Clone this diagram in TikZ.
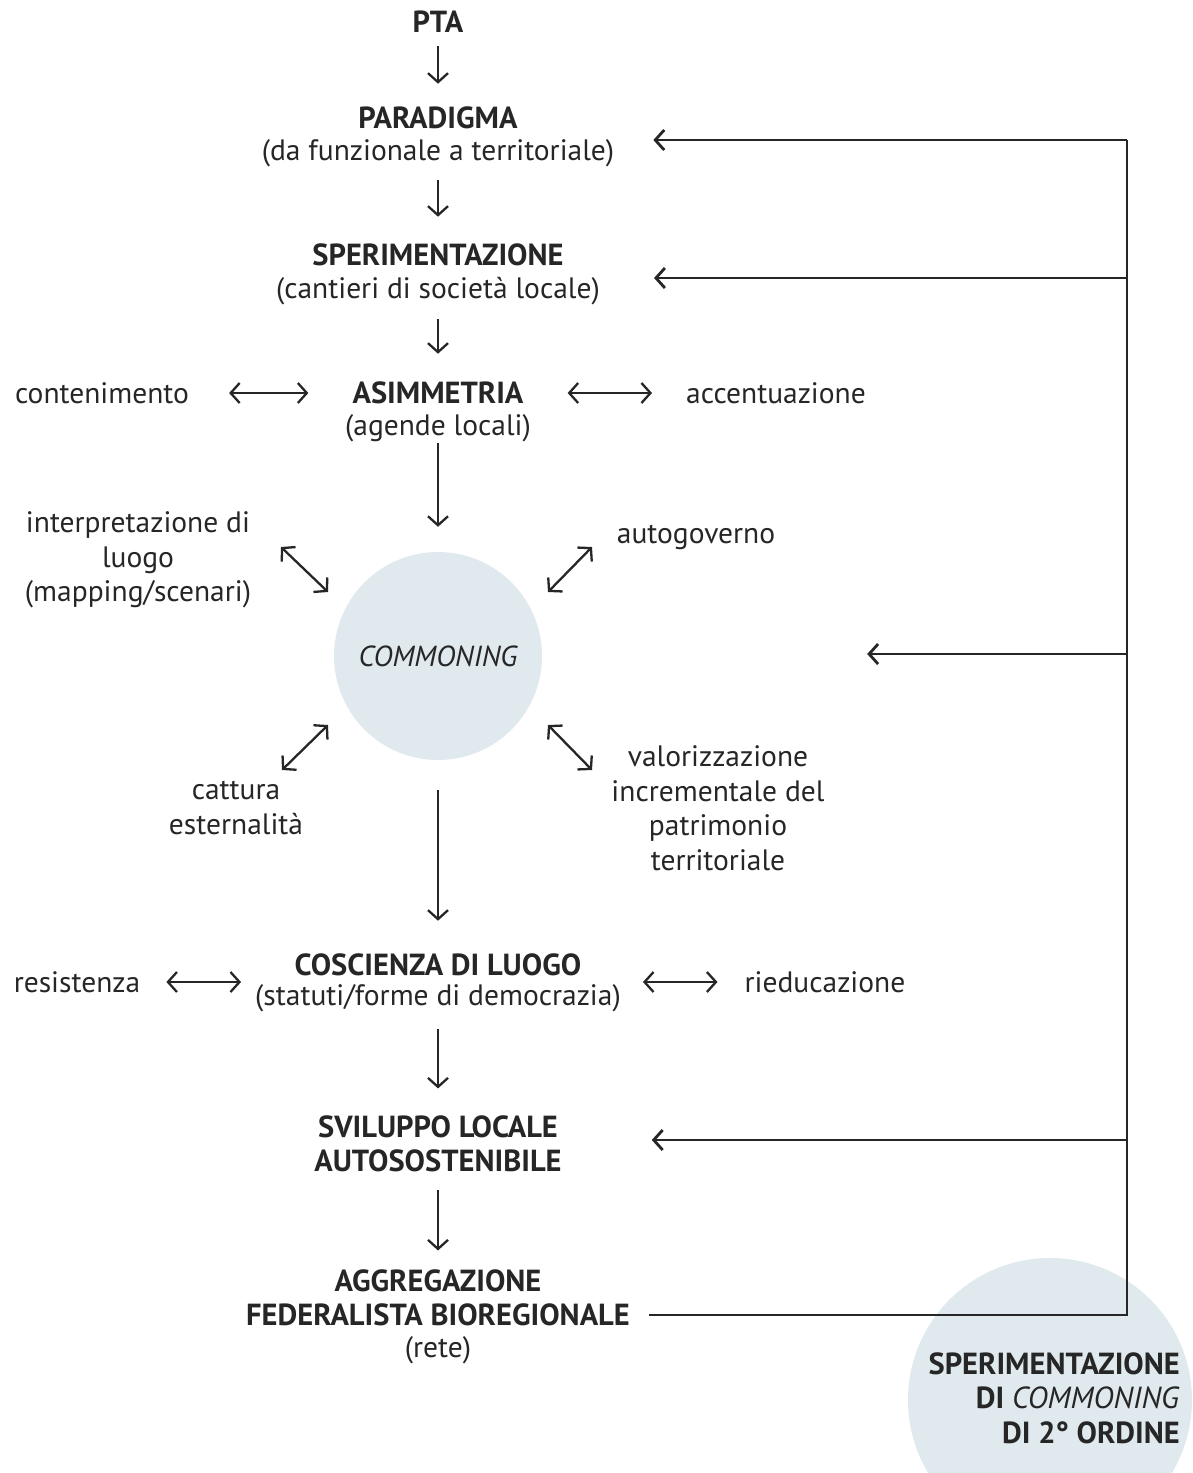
\documentclass[tikz,border=0pt]{standalone}
\usepackage{fontspec}
\setmainfont{PT Sans}
\usetikzlibrary{arrows.meta,calc}
\definecolor{ink}{RGB}{38,38,38}
\definecolor{bub}{RGB}{224,233,238}
\begin{document}
\begin{tikzpicture}[x=1pt,y=-1pt,
  every node/.style={text=ink, inner sep=0pt, align=center, font=\fontsize{29.5}{34.5}\selectfont},
  hd/.style={font=\fontsize{30.5}{34.5}\selectfont\bfseries},
  arr/.style={draw=ink, line width=2.3pt, -{Straight Barb[length=9pt,width=20pt]}},
  darr/.style={draw=ink, line width=2.3pt, {Straight Barb[length=9pt,width=20pt]}-{Straight Barb[length=9pt,width=20pt]}},
  fb/.style={draw=ink, line width=2.8pt}]
\useasboundingbox (0,0) rectangle (1192,1473);
\clip (0,0) rectangle (1192,1473);

% bubbles
\node[circle, fill=bub, minimum size=284pt] (bigc) at (1050,1400) {};
\node[circle, fill=bub, minimum size=208pt, font=\fontsize{29}{30}\selectfont\itshape] (circ) at (438,656) {COMMONING};

% main column
\node[hd] (pta) at (438,22) {PTA};
\node[hd] (par) at (438,118) {PARADIGMA};
\node (parsub) at (438,153) {(da funzionale a territoriale)};
\node[hd] (spe) at (438,255) {SPERIMENTAZIONE};
\node (spesub) at (438,291) {(cantieri di società locale)};
\node[hd] (asim) at (438,393) {ASIMMETRIA};
\node (asimsub) at (438,428) {(agende locali)};
\node (cont) at (102,393) {contenimento};
\node (acc) at (776,393) {accentuazione};
\node (interp) at (138,560) {interpretazione di\\luogo\\(mapping/scenari)};
\node (auto) at (696,537) {autogoverno};
\node (catt) at (236,808) {cattura\\esternalità};
\node (valo) at (718,808) {valorizzazione\\incrementale del\\patrimonio\\territoriale};
\node[hd] (cosc) at (438,965) {COSCIENZA DI LUOGO};
\node (coscsub) at (438,998) {(statuti/forme di democrazia)};
\node (res) at (77,982) {resistenza};
\node (ried) at (825,982) {rieducazione};
\node[hd] (svil) at (438,1144) {SVILUPPO LOCALE\\AUTOSOSTENIBILE};
\node[hd] (agg) at (438,1298) {AGGREGAZIONE\\FEDERALISTA BIOREGIONALE};
\node (aggsub) at (438,1350) {(rete)};
\node[hd, align=right, anchor=east] (sper) at (1180,1398) {SPERIMENTAZIONE\\DI \textit{\mdseries COMMONING}\\DI 2° ORDINE};

% vertical arrows
\draw[arr, shorten <=13pt, shorten >=23pt] (pta) -- (par);
\draw[arr, shorten <=13pt, shorten >=27pt] (parsub) -- (spe);
\draw[arr, shorten <=14pt, shorten >=28pt] (spesub) -- (asim);
\draw[arr, shorten <=1pt, shorten >=25pt] (asimsub) -- (circ);
\draw[arr, shorten <=30pt, shorten >=33pt] (circ) -- (cosc);
\draw[arr, shorten <=17pt, shorten >=27pt] (coscsub) -- (svil);
\draw[arr, shorten <=17pt, shorten >=19pt] (svil) -- (agg);

% horizontal double arrows
\draw[darr, shorten <=40pt, shorten >=44pt] (cont) -- (cont -| asim.west);
\draw[darr, shorten <=44pt, shorten >=34pt] (acc -| asim.east) -- (acc);
\draw[darr, shorten <=26pt, shorten >=14pt] (res) -- (res -| coscsub.west);
\draw[darr, shorten <=22pt, shorten >=27pt] (ried -| coscsub.east) -- (ried);

% diagonal double arrows
\draw[darr] ($(circ.center)+(-157,-109)$) -- ($(circ.center)+(-110,-64)$);
\draw[darr] ($(circ.center)+(154,-109)$) -- ($(circ.center)+(110,-64)$);
\draw[darr] ($(circ.center)+(-156,114)$) -- ($(circ.center)+(-110,69)$);
\draw[darr] ($(circ.center)+(110,69)$) -- ($(circ.center)+(154,114)$);

% feedback rail
\coordinate (j0) at (1127,140);
\coordinate (j1) at (1127,278);
\coordinate (j2) at (1127,654);
\coordinate (j3) at (1127,1140);
\coordinate (j4) at (1127,1315);
\draw[fb, shorten <=19pt] (j4 -| agg.east) -- (j4) -- (j0);
\draw[arr, line width=2.8pt, shorten >=39pt] (j0) -- (j0 -| parsub.east);
\draw[arr, line width=2.8pt, shorten >=54pt] (j1) -- (j1 -| spesub.east);
\draw[arr, line width=2.8pt, shorten >=325pt] (j2) -- (j2 -| circ.east);
\draw[arr, line width=2.8pt, shorten >=90pt] (j3) -- (j3 -| svil.east);
\end{tikzpicture}
\end{document}
